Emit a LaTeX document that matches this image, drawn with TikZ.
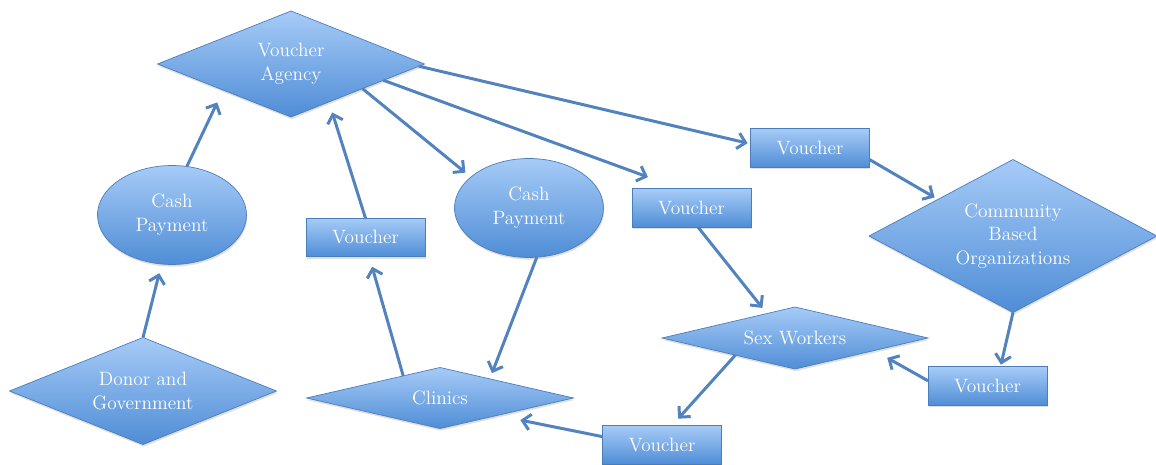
\documentclass[tikz,border=0pt]{standalone}
\usepackage{tikz}
\usetikzlibrary{arrows.meta,shapes.geometric,shadows}
\definecolor{boxtop}{HTML}{A6CBF7}
\definecolor{boxbottom}{HTML}{4F8DD6}
\definecolor{boxedge}{HTML}{4A7EBB}
\definecolor{flowblue}{HTML}{5383BF}

\begin{document}
\begin{tikzpicture}[x=0.02cm,y=-0.02cm,>={Straight Barb[length=4.5pt,width=9pt]},
  font=\fontsize{11}{13.5}\selectfont,
  shapebase/.style={draw=boxedge,top color=boxtop,bottom color=boxbottom,
    text=white,align=center,inner sep=0pt,outer sep=0pt,
    drop shadow={opacity=0.25,shadow xshift=0.4pt,shadow yshift=-1.2pt}},
  hub/.style={shapebase,diamond},
  purse/.style={shapebase,ellipse,minimum width=2.98cm,minimum height=1.98cm},
  ticket/.style={shapebase,rectangle,minimum width=2.38cm,minimum height=0.77cm},
  flow/.style={->,flowblue,line width=1.7pt}]
  \useasboundingbox (0,0) rectangle (1156,465);
  % shapes
  \node[hub,aspect=2.5,minimum width=5.34cm,minimum height=2.12cm] (agency) at (291,64) {Voucher\\Agency};
  \node[purse] (cashL) at (172,215) {Cash\\Payment};
  \node[hub,aspect=2.5,minimum width=5.34cm,minimum height=2.14cm] (donor) at (143,391) {Donor and\\Government};
  \node[ticket] (vouchL) at (365.5,237.5) {Voucher};
  \node[hub,aspect=4.4,minimum width=5.34cm,minimum height=1.22cm] (clinics) at (440,398) {Clinics};
  \node[purse] (cashM) at (529,208) {Cash\\Payment};
  \node[ticket] (vouchM) at (691.5,208) {Voucher};
  \node[ticket] (vouchT) at (810,148) {Voucher};
  \node[hub,aspect=1.9,minimum width=5.76cm,minimum height=3.06cm] (cbo) at (1013,236) {Community\\Based\\Organizations};
  \node[hub,aspect=4.3,minimum width=5.32cm,minimum height=1.24cm] (sex) at (795,338) {Sex Workers};
  \node[ticket] (vouchR) at (987.5,386) {Voucher};
  \node[ticket] (vouchB) at (662,445) {Voucher};
  % money and vouchers
  \draw[flow,shorten >=5.4pt] (donor.north) -- (cashL.258);
  \draw[flow,shorten >=7.8pt] (cashL.73) -- (agency.201);
  \draw[flow,shorten >=6.3pt] (vouchL.north) -- (agency.-45);
  \draw[flow,shorten >=5.9pt] (clinics.149) -- (vouchL.-79);
  \draw[flow,shorten >=4pt] (agency.-19) -- (cashM.152);
  \draw[flow,shorten >=19.4pt] (agency.-10) -- (vouchM.121);
  \draw[flow,shorten >=1.7pt] (agency.-1) -- (vouchT.176);
  \draw[flow,shorten >=2.2pt] (vouchT.-11) -- (cbo.154);
  \draw[flow,shorten >=4.1pt] (vouchM.-71) -- (sex.139);
  \draw[flow,shorten >=3.5pt] (cashM.-81) -- (clinics.21);
  \draw[flow,shorten >=1.2pt] (cbo.south) -- (vouchR.56);
  \draw[flow,shorten >=8.5pt] (vouchR.175) -- (sex.-9);
  \draw[flow,shorten >=5.4pt] (sex.196) -- (vouchB.63);
  \draw[flow,shorten >=13.5pt] (vouchB.172) -- (clinics.-17);
\end{tikzpicture}
\end{document}
